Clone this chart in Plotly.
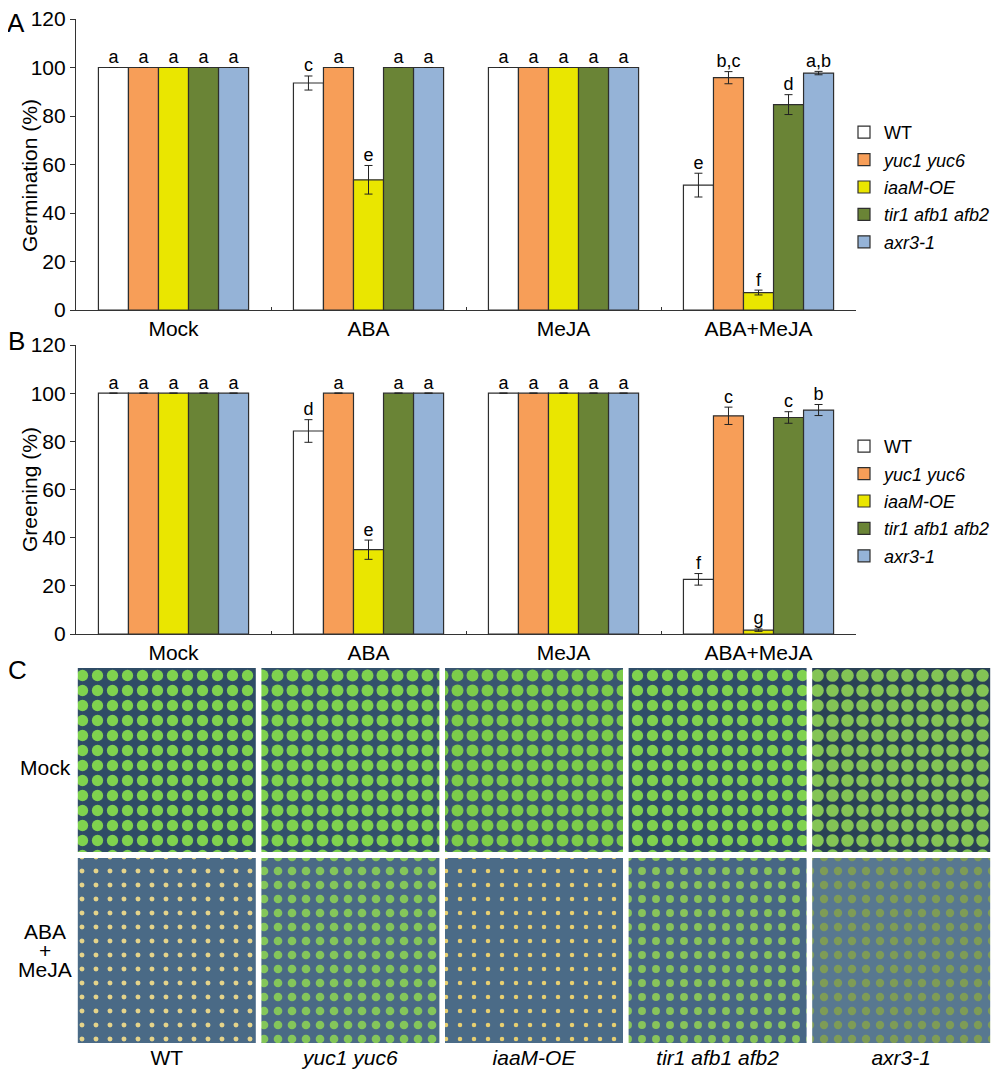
import plotly.graph_objects as go

# ---- data ----
treatments = ["Mock", "ABA", "MeJA", "ABA+MeJA"]
genotypes = ["WT", "<i>yuc1 yuc6</i>", "<i>iaaM-OE</i>", "<i>tir1 afb1 afb2</i>", "<i>axr3-1</i>"]
photo_genotypes = ["WT", "<i>yuc1 yuc6</i>", "<i>iaaM-OE</i>", "<i>tir1 afb1 afb2</i>", "<i>axr3-1</i>"]

# germination (%), per genotype across treatments
germ_wt = [100, 93.6, 100, 51.5]
germ_yuc = [100, 100, 100, 95.8]
germ_iaam = [100, 53.7, 100, 7.2]
germ_tir = [100, 100, 100, 84.7]
germ_axr = [100, 100, 100, 97.7]
germ_err_wt = [0, 2.9, 0, 4.9]
germ_err_yuc = [0, 0, 0, 2.5]
germ_err_iaam = [0, 5.9, 0, 1.0]
germ_err_tir = [0, 0, 0, 4.1]
germ_err_axr = [0, 0, 0, 0.7]
germ_let_wt = ["a", "c", "a", "e"]
germ_let_yuc = ["a", "a", "a", "b,c"]
germ_let_iaam = ["a", "e", "a", "f"]
germ_let_tir = ["a", "a", "a", "d"]
germ_let_axr = ["a", "a", "a", "a,b"]

# greening (%)
green_wt = [100, 84.3, 100, 22.7]
green_yuc = [100, 100, 100, 90.6]
green_iaam = [100, 35.0, 100, 1.6]
green_tir = [100, 100, 100, 89.9]
green_axr = [100, 100, 100, 93.0]
green_err_wt = [0, 4.7, 0, 2.4]
green_err_yuc = [0, 0, 0, 3.6]
green_err_iaam = [0, 4.0, 0, 0.5]
green_err_tir = [0, 0, 0, 2.4]
green_err_axr = [0, 0, 0, 2.3]
green_let_wt = ["a", "d", "a", "f"]
green_let_yuc = ["a", "a", "a", "c"]
green_let_iaam = ["a", "e", "a", "g"]
green_let_tir = ["a", "a", "a", "c"]
green_let_axr = ["a", "a", "a", "b"]

colors = ["#FFFFFF", "#F79E58", "#EAE600", "#6A8436", "#95B3D7"]
FONT = "Liberation Sans, Arial, sans-serif"
# page has an 8px body margin, so the figure is shifted by that much
OFF = 8
W, H = 1000 - OFF, 1069 - OFF


def fx(p):
    return min(1.0, max(0.0, (p - OFF) / W))


def fy(p):
    return min(1.0, max(0.0, 1 - (p - OFF) / H))


germ = [germ_wt, germ_yuc, germ_iaam, germ_tir, germ_axr]
germ_err = [germ_err_wt, germ_err_yuc, germ_err_iaam, germ_err_tir, germ_err_axr]
germ_let = [germ_let_wt, germ_let_yuc, germ_let_iaam, germ_let_tir, germ_let_axr]
green = [green_wt, green_yuc, green_iaam, green_tir, green_axr]
green_err = [green_err_wt, green_err_yuc, green_err_iaam, green_err_tir, green_err_axr]
green_let = [green_let_wt, green_let_yuc, green_let_iaam, green_let_tir, green_let_axr]

bw = 0.77 / 5
fig = go.Figure()


def add_panel(vals, errs, lets, xa, ya, leg):
    for i, g in enumerate(genotypes):
        xs = [k + (i - 2) * bw for k in range(len(treatments))]
        fig.add_trace(go.Bar(
            x=xs, y=vals[i], width=bw, name=g,
            marker=dict(color=colors[i], line=dict(color="#2e2e2e", width=1.2)),
            error_y=dict(type="data", array=errs[i], color="#222222", thickness=1, width=4),
            xaxis=xa, yaxis=ya, legend=leg, legendgroup=leg + str(i),
        ))
        fig.add_trace(go.Scatter(
            x=xs, y=[v + e for v, e in zip(vals[i], errs[i])], text=lets[i],
            mode="text", textposition="top center",
            textfont=dict(family=FONT, size=18, color="black"),
            xaxis=xa, yaxis=ya, showlegend=False, hoverinfo="skip",
        ))


add_panel(germ, germ_err, germ_let, "x", "y", "legend")
add_panel(green, green_err, green_let, "x2", "y2", "legend2")

# ---- panel C: photo tiles drawn as textured plates ----
top_bg = ["#2f4c66", "#33516b", "#395670", "#304e69", "#2a4155"]
top_fg = ["#7fd24e", "#7fd24e", "#7ccc4a", "#80d24e", "#84c455"]
top_sol = [0.45, 0.5, 0.5, 0.45, 0.55]
bot_bg = ["#4a6a86", "#4a6a85", "#4b6b87", "#476784", "#587890"]
bot_fg = ["#e5d48a", "#84c65a", "#e8d070", "#88c45a", "#7e9c56"]
bot_sol = [0.1, 0.3, 0.08, 0.25, 0.28]
for k in range(5):
    fig.add_trace(go.Bar(
        x=[k], y=[184], base=[191], width=0.9695,
        marker=dict(color=top_bg[k], line=dict(width=0),
                    pattern=dict(shape=".", size=15, solidity=top_sol[k], fgcolor=top_fg[k],
                                 bgcolor=top_bg[k], fgopacity=1, fillmode="overlay")),
        xaxis="x3", yaxis="y3", showlegend=False, hoverinfo="skip",
    ))
    fig.add_trace(go.Bar(
        x=[k], y=[185], base=[0], width=0.9695,
        marker=dict(color=bot_bg[k], line=dict(width=0),
                    pattern=dict(shape=".", size=14, solidity=bot_sol[k], fgcolor=bot_fg[k],
                                 bgcolor=bot_bg[k], fgopacity=1, fillmode="overlay")),
        xaxis="x3", yaxis="y3", showlegend=False, hoverinfo="skip",
    ))

xcommon = dict(range=[-0.5, 3.5], tickvals=[0, 1, 2, 3], ticktext=treatments,
               showline=True, linecolor="#333333", linewidth=1.2, ticks="",
               tickfont=dict(family=FONT, size=21, color="black"),
               minor=dict(tickvals=[0.5, 1.5, 2.5], ticks="inside", ticklen=3, tickcolor="#333333"),
               showgrid=False, zeroline=False, fixedrange=True, automargin=False,
               ticklabeloverflow="allow")
ycommon = dict(range=[0, 120], dtick=20, showline=True, linecolor="#333333", linewidth=1.2,
               ticks="outside", ticklen=5, tickcolor="#333333",
               tickfont=dict(family=FONT, size=21, color="black"),
               showgrid=False, zeroline=False, automargin=False, ticklabeloverflow="allow")

legcommon = dict(x=fx(844), xanchor="left", yanchor="top", tracegroupgap=1,
                 font=dict(family=FONT, size=18, color="black"),
                 bgcolor="rgba(0,0,0,0)", itemwidth=30)


def label(text, x, y, size=21, angle=0):
    return dict(text=text, x=fx(x), y=fy(y), xref="paper", yref="paper", showarrow=False,
                font=dict(family=FONT, size=size, color="black"), textangle=angle,
                xanchor="center", yanchor="middle")


fig.update_layout(
    width=W, height=H, margin=dict(l=0, r=0, t=0, b=0, autoexpand=False),
    paper_bgcolor="white", plot_bgcolor="white",
    barmode="overlay", showlegend=True,
    xaxis=dict(domain=[fx(76), fx(856)], anchor="y", **xcommon),
    yaxis=dict(domain=[fy(310), fy(19)], anchor="x", **ycommon),
    xaxis2=dict(domain=[fx(76), fx(856)], anchor="y2", **xcommon),
    yaxis2=dict(domain=[fy(634), fy(345)], anchor="x2", **ycommon),
    xaxis3=dict(domain=[fx(75), fx(993)], anchor="y3", range=[-0.5, 4.5], tickvals=list(range(5)),
                ticktext=photo_genotypes, ticks="", showline=False, showgrid=False, zeroline=False,
                tickfont=dict(family=FONT, size=21, color="black"), automargin=False,
                ticklabeloverflow="allow"),
    yaxis3=dict(domain=[fy(1043), fy(668)], anchor="x3", range=[0, 375],
                visible=False, showgrid=False, zeroline=False),
    legend=dict(y=fy(114), **legcommon),
    legend2=dict(y=fy(428), **legcommon),
    annotations=[
        label("Germination (%)", 29, 176, angle=-90),
        label("Greening (%)", 29, 490, angle=-90),
        label("A", 16, 23, size=26),
        label("B", 16, 341, size=26),
        label("C", 17, 670, size=26),
        label("Mock", 45, 767),
        label("ABA", 45, 931),
        label("+", 45, 950),
        label("MeJA", 45, 969),
    ],
)

fig.write_html("out.html")
